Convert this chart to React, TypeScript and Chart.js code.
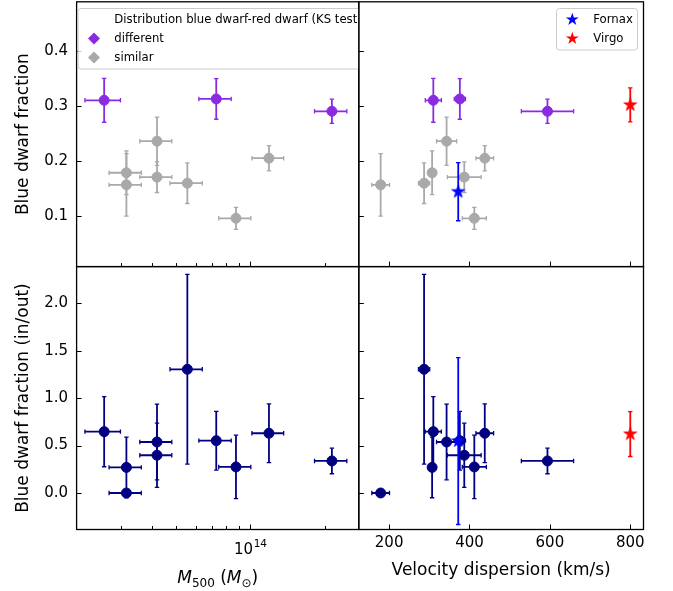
import React, { useEffect, useRef } from 'react';
import { Chart, registerables } from 'chart.js';

Chart.register(...registerables);

const FONT = 'DejaVu Sans';
Chart.defaults.font.family = FONT;
Chart.defaults.color = '#000';

// ---------------- data (one entry per cluster) ----------------
const clusterKind = ['different', 'similar', 'similar', 'similar', 'similar', 'similar', 'different', 'similar', 'similar', 'different'];
const massM500 = [2.56e13, 3.15e13, 3.15e13, 4.19e13, 4.19e13, 5.56e13, 7.28e13, 8.75e13, 1.19e14, 2.14e14];
const massErr = [0.42e13, 0.47e13, 0.47e13, 0.62e13, 0.62e13, 0.83e13, 1.09e13, 1.3e13, 1.75e13, 3.2e13];
const velDisp = [310, 307, 179, 343, 387, 287, 376, 412, 438, 594];
const velErr = [20, 5, 22, 25, 42, 14, 14, 30, 22, 65];
const blueFrac = [0.311, 0.179, 0.157, 0.2365, 0.171, 0.16, 0.3135, 0.096, 0.2055, 0.291];
const blueFracErr = [0.04, 0.04, 0.057, 0.044, 0.028, 0.037, 0.037, 0.02, 0.023, 0.022];
const inOut = [0.647, 0.27, 0.0, 0.538, 0.398, 1.305, 0.552, 0.275, 0.63, 0.338];
const inOutErr = [0.37, 0.32, 0, 0.4, 0.338, 1.0, 0.31, 0.335, 0.31, 0.135];

// nearby groups
const groupNames = ['Fornax', 'Virgo'];
const groupVel = [372, 800];
const groupBlueFrac = [0.1445, 0.3026];
const groupBlueFracErr = [0.053, 0.031];
const groupInOut = [0.548, 0.622];
const groupInOutErr = [0.88, 0.237];

// ticks
const fracTicks = [0.1, 0.2, 0.3, 0.4];
const ratioTicks = [0.0, 0.5, 1.0, 1.5, 2.0];
const velTicks = [200, 400, 600, 800];
const massTicks = [3e13, 4e13, 5e13, 6e13, 7e13, 8e13, 9e13, 1e14, 2e14];
const massMajor = [1e14];
const massMajorLabel = { base: '10', exp: '14' };

const kindLabels = ['different', 'similar'];
const legendTitle = 'Distribution blue dwarf-red dwarf (KS test)';

// ---------------- styling / layout ----------------
const W = 673;
const H = 591;
const PX = [76.6, 358.8, 643.5];
const PY = [1.8, 266.6, 529.5];
const kindColor: Record<string, string> = { different: '#8A2BE2', similar: '#A9A9A9' };
const groupColor = ['#0000FF', '#FF0000'];
const NAVY = '#000080';
const LEGEND_FONT = 11.7;

type Panel = { id: string; col: number; row: number };
const PANELS: Panel[] = [
  { id: 'tl', col: 0, row: 0 },
  { id: 'tr', col: 1, row: 0 },
  { id: 'bl', col: 0, row: 1 },
  { id: 'br', col: 1, row: 1 },
];

function starPath(ctx: CanvasRenderingContext2D, x: number, y: number, r: number) {
  const inner = r * 0.382;
  ctx.beginPath();
  for (let k = 0; k < 10; k++) {
    const rad = k % 2 === 0 ? r : inner;
    const a = -Math.PI / 2 + (k * Math.PI) / 5;
    const px = x + rad * Math.cos(a);
    const py = y + rad * Math.sin(a);
    if (k === 0) ctx.moveTo(px, py);
    else ctx.lineTo(px, py);
  }
  ctx.closePath();
}

function makeStar(color: string, r: number) {
  const c = document.createElement('canvas');
  const s = Math.ceil(r * 2 + 4);
  c.width = s;
  c.height = s;
  const g = c.getContext('2d')!;
  starPath(g, s / 2, s / 2, r);
  g.fillStyle = color;
  g.fill();
  g.lineWidth = 0.8;
  g.strokeStyle = color;
  g.stroke();
  return c;
}

function line(ctx: CanvasRenderingContext2D, x1: number, y1: number, x2: number, y2: number) {
  ctx.beginPath();
  ctx.moveTo(x1, y1);
  ctx.lineTo(x2, y2);
  ctx.stroke();
}

const CAP = 2.2;

const errorBarPlugin = {
  id: 'errbars',
  beforeDatasetDraw(chart: any, args: any) {
    const ds: any = chart.data.datasets[args.index];
    if (!ds.xErr && !ds.yErr) return;
    const xs = chart.scales.x;
    const ys = chart.scales.y;
    const ctx: CanvasRenderingContext2D = chart.ctx;
    const a = chart.chartArea;
    ctx.save();
    ctx.beginPath();
    ctx.rect(a.left, a.top, a.right - a.left, a.bottom - a.top);
    ctx.clip();
    ctx.strokeStyle = ds.errColor;
    ds.data.forEach((p: any, i: number) => {
      const px = xs.getPixelForValue(p.x);
      const py = ys.getPixelForValue(p.y);
      const xe = (ds.xErr && ds.xErr[i]) || 0;
      const ye = (ds.yErr && ds.yErr[i]) || 0;
      if (xe > 0) {
        const x1 = xs.getPixelForValue(p.x - xe);
        const x2 = xs.getPixelForValue(p.x + xe);
        ctx.lineWidth = 1.8;
        line(ctx, x1, py, x2, py);
        ctx.lineWidth = 1.3;
        line(ctx, x1, py - CAP, x1, py + CAP);
        line(ctx, x2, py - CAP, x2, py + CAP);
      }
      if (ye > 0) {
        const y1 = ys.getPixelForValue(p.y - ye);
        const y2 = ys.getPixelForValue(p.y + ye);
        ctx.lineWidth = 1.8;
        line(ctx, px, y1, px, y2);
        ctx.lineWidth = 1.3;
        line(ctx, px - CAP, y1, px + CAP, y1);
        line(ctx, px - CAP, y2, px + CAP, y2);
      }
    });
    ctx.restore();
  },
};

function roundRect(ctx: CanvasRenderingContext2D, x: number, y: number, w: number, h: number, r: number) {
  ctx.beginPath();
  ctx.moveTo(x + r, y);
  ctx.lineTo(x + w - r, y);
  ctx.arcTo(x + w, y, x + w, y + r, r);
  ctx.lineTo(x + w, y + h - r);
  ctx.arcTo(x + w, y + h, x + w - r, y + h, r);
  ctx.lineTo(x + r, y + h);
  ctx.arcTo(x, y + h, x, y + h - r, r);
  ctx.lineTo(x, y + r);
  ctx.arcTo(x, y, x + r, y, r);
  ctx.closePath();
}

function diamond(ctx: CanvasRenderingContext2D, x: number, y: number, r: number, color: string) {
  ctx.beginPath();
  ctx.moveTo(x, y - r);
  ctx.lineTo(x + r, y);
  ctx.lineTo(x, y + r);
  ctx.lineTo(x - r, y);
  ctx.closePath();
  ctx.fillStyle = color;
  ctx.fill();
}

function makeChart(canvas: HTMLCanvasElement, p: Panel) {
  const left = PX[p.col];
  const right = PX[p.col + 1];
  const top = PY[p.row];
  const bottom = PY[p.row + 1];
  const isMass = p.col === 0;
  const isFrac = p.row === 0;
  const showY = p.col === 0;
  const showX = p.row === 1;

  const xv = isMass ? massM500 : velDisp;
  const xe = isMass ? massErr : velErr;
  const yv = isFrac ? blueFrac : inOut;
  const ye = isFrac ? blueFracErr : inOutErr;

  const datasets: any[] = [];
  if (!isMass) {
    groupNames.forEach((name, g) => {
      datasets.push({
        label: name,
        data: [{ x: groupVel[g], y: isFrac ? groupBlueFrac[g] : groupInOut[g] }],
        yErr: [isFrac ? groupBlueFracErr[g] : groupInOutErr[g]],
        errColor: groupColor[g],
        pointStyle: makeStar(groupColor[g], 6.8),
        pointRadius: 6,
        backgroundColor: groupColor[g],
        borderColor: groupColor[g],
      });
    });
  }
  if (isFrac) {
    kindLabels.forEach((k) => {
      const idx = clusterKind.map((c, i) => (c === k ? i : -1)).filter((i) => i >= 0);
      datasets.push({
        label: k,
        data: idx.map((i) => ({ x: xv[i], y: yv[i] })),
        xErr: idx.map((i) => xe[i]),
        yErr: idx.map((i) => ye[i]),
        errColor: kindColor[k],
        pointRadius: 5,
        pointBorderWidth: 1,
        backgroundColor: kindColor[k],
        borderColor: kindColor[k],
      });
    });
  } else {
    datasets.push({
      label: 'clusters',
      data: xv.map((x, i) => ({ x, y: yv[i] })),
      xErr: xe.slice(),
      yErr: ye.slice(),
      errColor: NAVY,
      pointRadius: 5,
      pointBorderWidth: 1,
      backgroundColor: NAVY,
      borderColor: NAVY,
    });
  }

  const xTickVals = isMass ? massTicks : velTicks;
  const yTickVals = isFrac ? fracTicks : ratioTicks;

  const panelPlugin = {
    id: 'panel_' + p.id,
    afterDraw(chart: any) {
      const ctx: CanvasRenderingContext2D = chart.ctx;
      const a = chart.chartArea;
      const xs = chart.scales.x;
      const ys = chart.scales.y;
      ctx.save();
      // ticks (inward)
      ctx.strokeStyle = '#000';
      ctx.lineWidth = 1;
      yTickVals.forEach((v) => {
        const y = Math.round(ys.getPixelForValue(v)) + 0.5;
        line(ctx, a.left, y, a.left + 5, y);
      });
      xTickVals.forEach((v) => {
        const major = isMass ? massMajor.includes(v) : true;
        const x = Math.round(xs.getPixelForValue(v)) + 0.5;
        line(ctx, x, a.bottom, x, a.bottom - (major ? 5 : 3.5));
      });
      // frame
      ctx.lineWidth = 1.3;
      ctx.strokeRect(a.left, a.top, a.right - a.left, a.bottom - a.top);

      // legends
      if (p.id === 'tl') {
        ctx.save();
        ctx.beginPath();
        ctx.rect(a.left, a.top, a.right - a.left, a.bottom - a.top);
        ctx.clip();
        roundRect(ctx, a.left + 1.5, 8.5, 330, 60.5, 3);
        ctx.fillStyle = 'rgba(255,255,255,0.8)';
        ctx.fill();
        ctx.strokeStyle = '#cccccc';
        ctx.lineWidth = 1;
        ctx.stroke();
        ctx.fillStyle = '#000';
        ctx.font = `${LEGEND_FONT}px "${FONT}"`;
        ctx.textBaseline = 'middle';
        ctx.textAlign = 'left';
        ctx.fillText(legendTitle, 114.3, 19.5);
        kindLabels.forEach((k, i) => {
          const y = 38.5 + i * 19;
          diamond(ctx, 94, y, 6, kindColor[k]);
          ctx.fillStyle = '#000';
          ctx.fillText(k, 114.3, y);
        });
        ctx.restore();
      }
      if (p.id === 'tr') {
        roundRect(ctx, 556.5, 8.5, 81, 41.5, 3);
        ctx.fillStyle = 'rgba(255,255,255,0.8)';
        ctx.fill();
        ctx.strokeStyle = '#cccccc';
        ctx.lineWidth = 1;
        ctx.stroke();
        ctx.font = `${LEGEND_FONT}px "${FONT}"`;
        ctx.textBaseline = 'middle';
        ctx.textAlign = 'left';
        groupNames.forEach((g, i) => {
          const y = 19.5 + i * 19;
          starPath(ctx, 572.3, y, 6.8);
          ctx.fillStyle = groupColor[i];
          ctx.fill();
          ctx.fillStyle = '#000';
          ctx.fillText(g, 593.3, y);
        });
      }
      if (p.id === 'bl') {
        // tick label 10^14 (mathtext-like)
        ctx.fillStyle = '#000';
        ctx.textBaseline = 'alphabetic';
        ctx.textAlign = 'left';
        const tx = xs.getPixelForValue(massMajor[0]);
        ctx.font = `15px "${FONT}"`;
        const wb = ctx.measureText(massMajorLabel.base).width;
        ctx.font = `10.5px "${FONT}"`;
        const we = ctx.measureText(massMajorLabel.exp).width;
        const x0 = tx - (wb + we) / 2;
        ctx.font = `15px "${FONT}"`;
        ctx.fillText(massMajorLabel.base, x0, 554);
        ctx.font = `10.5px "${FONT}"`;
        ctx.fillText(massMajorLabel.exp, x0 + wb + 0.5, 546.5);

        // mathtext-like x title for mass axis
        const parts = [
          { t: 'M', f: `italic 17px "${FONT}"`, dy: 0 },
          { t: '500', f: `12px "${FONT}"`, dy: 3.6 },
          { t: ' (', f: `17px "${FONT}"`, dy: 0 },
          { t: 'M', f: `italic 17px "${FONT}"`, dy: 0 },
          { t: '\u2299', f: `12px "${FONT}"`, dy: 3.6 },
          { t: ')', f: `17px "${FONT}"`, dy: 0 },
        ];
        let total = 0;
        const widths = parts.map((q) => {
          ctx.font = q.f;
          const w = ctx.measureText(q.t).width;
          total += w;
          return w;
        });
        let x = (a.left + a.right) / 2 - total / 2;
        const base = 583;
        parts.forEach((q, i) => {
          ctx.font = q.f;
          ctx.fillText(q.t, x, base + q.dy);
          x += widths[i];
        });
      }
      ctx.restore();
    },
  };

  const config: any = {
    type: 'scatter',
    data: { datasets },
    options: {
      animation: false,
      responsive: false,
      devicePixelRatio: 1,
      events: [],
      layout: {
        autoPadding: false,
        padding: {
          left: showY ? 0 : left,
          top,
          right: W - right,
          bottom: showX ? 0 : H - bottom,
        },
      },
      plugins: {
        legend: { display: false },
        tooltip: { enabled: false },
      },
      scales: {
        x: {
          type: isMass ? 'logarithmic' : 'linear',
          position: 'bottom',
          bounds: 'data',
          min: isMass ? 1.98e13 : 124.6,
          max: isMass ? 2.75e14 : 832.9,
          grid: { display: false, drawTicks: false },
          border: { display: false },
          ticks: {
            display: showX && !isMass,
            autoSkip: false,
            maxRotation: 0,
            padding: 5,
            font: { size: 15, family: FONT },
            color: '#000',
            callback: (v: number) => String(v),
          },
          afterBuildTicks: (s: any) => {
            s.ticks = xTickVals.map((v) => ({ value: v, major: isMass ? massMajor.includes(v) : false }));
          },
          afterFit: (s: any) => {
            s.height = showX ? H - bottom : 0;
            s.paddingLeft = 0;
            s.paddingRight = 0;
            s.paddingTop = 0;
            s.paddingBottom = 0;
          },
          title: {
            display: showX && !isMass,
            text: 'Velocity dispersion (km/s)',
            font: { size: 17, family: FONT },
            color: '#000',
            padding: { top: 0, bottom: 10 },
          },
        },
        y: {
          type: 'linear',
          position: 'left',
          bounds: 'data',
          min: isFrac ? 0.008 : -0.385,
          max: isFrac ? 0.4905 : 2.388,
          grid: { display: false, drawTicks: false },
          border: { display: false },
          ticks: {
            display: showY,
            autoSkip: false,
            padding: 8.6,
            font: { size: 15, family: FONT },
            color: '#000',
            callback: (v: number) => v.toFixed(1),
          },
          afterBuildTicks: (s: any) => {
            s.ticks = yTickVals.map((v) => ({ value: v }));
          },
          afterFit: (s: any) => {
            s.width = showY ? left : 0;
            s.paddingLeft = 0;
            s.paddingRight = 0;
            s.paddingTop = 0;
            s.paddingBottom = 0;
          },
          title: {
            display: showY,
            text: isFrac ? 'Blue dwarf fraction' : 'Blue dwarf fraction (in/out)',
            font: { size: 17, family: FONT },
            color: '#000',
            padding: { top: 13.8, bottom: 0 },
          },
        },
      },
    },
    plugins: [errorBarPlugin, panelPlugin],
  };
  return new Chart(canvas, config);
}

export default function App() {
  const refs = useRef<(HTMLCanvasElement | null)[]>([]);
  useEffect(() => {
    const charts = PANELS.map((p, i) => makeChart(refs.current[i]!, p));
    return () => charts.forEach((c) => c.destroy());
  }, []);
  return (
    <div style={{ position: 'fixed', left: 0, top: 0, width: W, height: H, background: '#fff' }}>
      {PANELS.map((p, i) => (
        <canvas
          key={p.id}
          ref={(el) => {
            refs.current[i] = el;
          }}
          width={W}
          height={H}
          style={{ position: 'absolute', left: 0, top: 0, width: W, height: H }}
        />
      ))}
    </div>
  );
}
